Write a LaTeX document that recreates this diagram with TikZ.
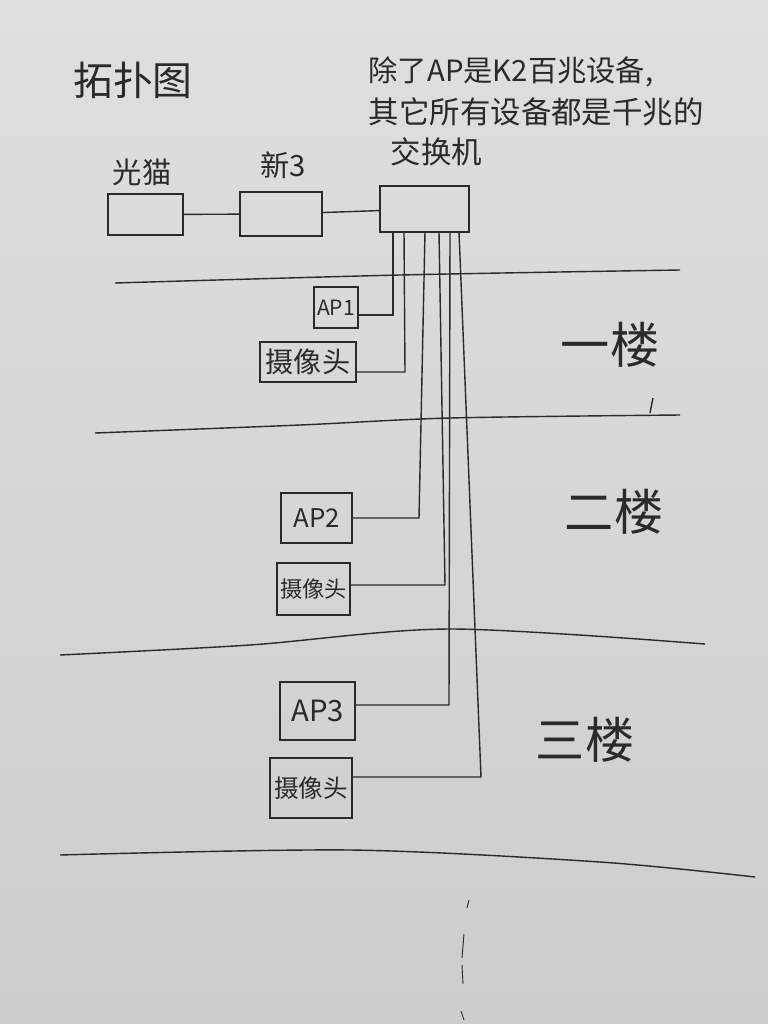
\documentclass[tikz,border=0pt]{standalone}
\usepackage{fontspec}
\newfontfamily\cjk{Noto Sans CJK SC}
\usepackage{tikz}
\usetikzlibrary{positioning}

\definecolor{ink}{HTML}{2A2A2A}
\definecolor{paperTop}{HTML}{DFDFDF}
\definecolor{paperBot}{HTML}{CDCDCD}

\begin{document}
\begin{tikzpicture}[x=0.03cm,y=-0.03cm,line width=1.2pt,color=ink,
  box/.style={draw,rectangle,inner sep=0pt,font=\cjk},
  lbl/.style={font=\cjk,inner sep=0pt},
  floorline/.style={line width=1.2pt}]

% Paper, fixes the page size as well.
\shade[top color=paperTop,bottom color=paperBot,draw=none] (0,0) rectangle (768,1024);
\useasboundingbox (0,0) rectangle (768,1024);

% Title and note.
\node[lbl,font=\cjk\fontsize{34}{38}\selectfont] (title) at (133,80) {拓扑图};
\node[lbl,anchor=west,font=\cjk\fontsize{25}{28}\selectfont] (note1) at (368,72) {除了AP是K2百兆设备,};
\node[lbl,anchor=west,font=\cjk\fontsize{26}{30}\selectfont] (note2) at (368,112) {其它所有设备都是千兆的};
\node[lbl,anchor=west,font=\cjk\fontsize{26}{30}\selectfont] (note3) at (390,152) {交换机};

% Top row: modem, router, switch.
\node[box,minimum width=2.25cm,minimum height=1.23cm] (modem) at (145.5,214.5) {};
\node[box,minimum width=2.46cm,minimum height=1.32cm] (xin3) at (281,214) {};
\node[box,minimum width=2.67cm,minimum height=1.38cm] (sw) at (424.5,209) {};
\node[lbl,font=\cjk\fontsize{25}{28}\selectfont] (modemlbl) at (142,172) {光猫};
\node[lbl,font=\cjk\fontsize{25}{28}\selectfont] (xin3lbl) at (283,165) {新3};

\draw (modem) -- (xin3);
\draw (xin3) -- (sw);

% Floor 1 devices.
\node[box,minimum width=1.32cm,minimum height=1.23cm,font=\cjk\fontsize{18}{20}\selectfont] (ap1) at (336,307.5) {AP1};
\node[box,minimum width=2.88cm,minimum height=1.2cm,font=\cjk\fontsize{24}{26}\selectfont] (cam1) at (308,362) {摄像头};
% Floor 2 devices.
\node[box,minimum width=2.13cm,minimum height=1.5cm,font=\cjk\fontsize{22}{24}\selectfont] (ap2) at (316.5,518) {AP2};
\node[box,minimum width=2.19cm,minimum height=1.56cm,font=\cjk\fontsize{19}{22}\selectfont] (cam2) at (313.5,589) {摄像头};
% Floor 3 devices.
\node[box,minimum width=2.25cm,minimum height=1.74cm,font=\cjk\fontsize{25}{28}\selectfont] (ap3) at (317.5,711) {AP3};
\node[box,minimum width=2.46cm,minimum height=1.8cm,font=\cjk\fontsize{21}{24}\selectfont] (cam3) at (311,788) {摄像头};

% Switch ports and bends.
\coordinate (p1) at (393,232);
\coordinate (p2) at (404,232);
\coordinate (p3) at (425,232);
\coordinate (p4) at (439,232);
\coordinate (p5) at (450,232);
\coordinate (p6) at (459,232);
\coordinate (b1) at (393,315);
\coordinate (b2) at (405,372);
\coordinate (b3) at (419,518);
\coordinate (b4) at (445,585);
\coordinate (b5) at (449,705);
\coordinate (b6) at (481,777);

\foreach \i/\dev in {1/ap1,2/cam1,3/ap2,4/cam2,5/ap3,6/cam3}
  \draw (p\i) -- (b\i) -- (\dev.east |- b\i);

% Floor lines.
\draw[floorline] plot[smooth] coordinates {(115,283) (400,275) (680,270)};
\draw[floorline] plot[smooth] coordinates {(95,433) (300,425) (450,418) (680,415)};
\draw[floorline] (653,398) -- (650,413);
\draw[floorline] plot[smooth] coordinates {(60,655) (250,645) (450,629) (705,644)};
\draw[floorline] plot[smooth] coordinates {(60,855) (350,850) (600,862) (755,877)};

% Floor names.
\node[lbl,font=\cjk\fontsize{42}{46}\selectfont] (f1) at (610,345) {一楼};
\node[lbl,font=\cjk\fontsize{42}{46}\selectfont] (f2) at (614,512) {二楼};
\node[lbl,font=\cjk\fontsize{42}{46}\selectfont] (f3) at (585,740) {三楼};

% Marks at the bottom.
\draw[line width=0.8pt] (469,900) -- (467,908);
\draw[line width=0.8pt] (464,934) -- (462,958);
\draw[line width=0.8pt] (462,965) -- (463,984);
\draw[line width=0.8pt] (461,1011) -- (464,1020);

\end{tikzpicture}
\end{document}
